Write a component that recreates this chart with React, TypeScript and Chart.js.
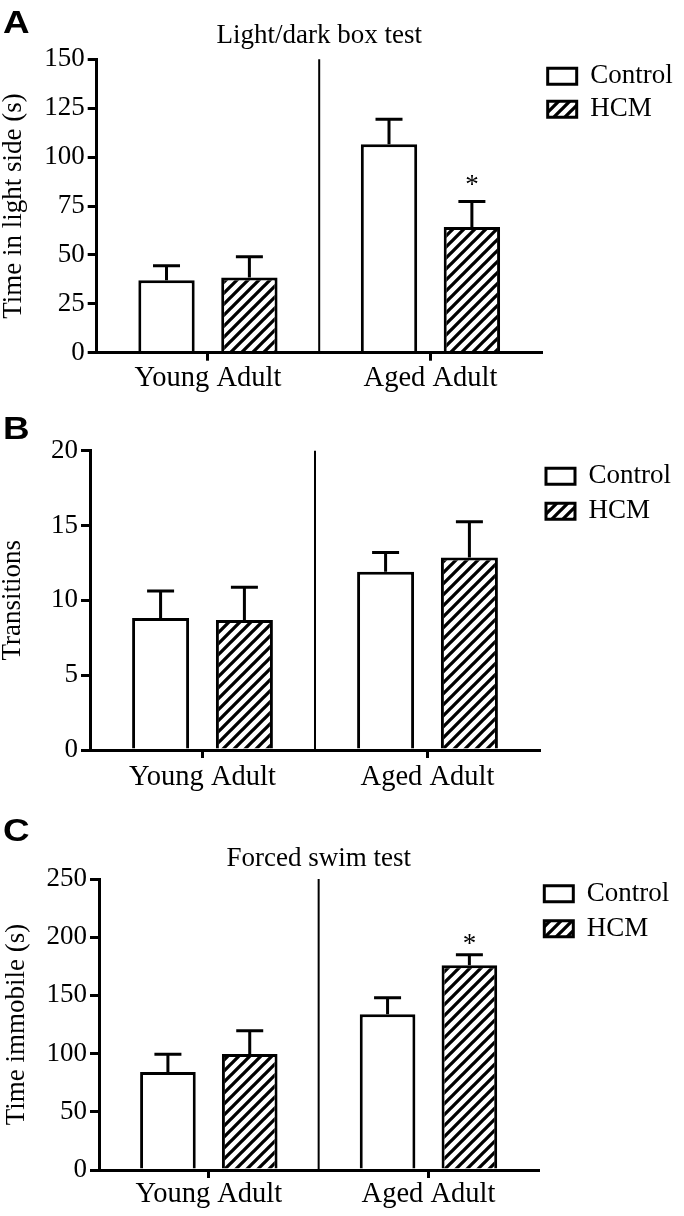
import React, { useEffect, useRef } from 'react';
import { Chart, registerables } from 'chart.js';

Chart.register(...registerables);

// ---------- data ----------
const categories = ['Young Adult', 'Aged Adult'];
const seriesNames = ['Control', 'HCM'];

// Panel A – Light/dark box test, time in light side (s)
const lightDarkControl = [37.1, 106.6];
const lightDarkControlSem = [7.3, 12.8];
const lightDarkHcm = [38.5, 64.2];
const lightDarkHcmSem = [10.5, 13.1];
const lightDarkControlSig = [false, false];
const lightDarkHcmSig = [false, true];
const lightDarkAxis = [0, 150, 25]; // min, max, step

// Panel B – Transitions
const transitionsControl = [8.82, 11.91];
const transitionsControlSem = [1.8, 1.29];
const transitionsHcm = [8.68, 12.87];
const transitionsHcmSem = [2.19, 2.38];
const transitionsControlSig = [false, false];
const transitionsHcmSig = [false, false];
const transitionsAxis = [0, 20, 5];

// Panel C – Forced swim test, time immobile (s)
const swimControl = [84.2, 133.7];
const swimControlSem = [15.2, 14.3];
const swimHcm = [99.7, 175.8];
const swimHcmSem = [20.0, 9.2];
const swimControlSig = [false, false];
const swimHcmSig = [false, true];
const swimAxis = [0, 250, 50];

// ---------- styling / layout ----------
const SERIF = "'Times New Roman', 'Liberation Serif', serif";
const FONT_SIZE = 27;
const XLABEL_SIZE = 28.5;

type PanelSpec = {
  key: string;
  letter: string;
  letterTop: number;
  title?: string;
  yTitle: string;
  control: number[];
  controlSem: number[];
  hcm: number[];
  hcmSem: number[];
  controlSig: boolean[];
  hcmSig: boolean[];
  axis: number[];
  top: number;
  height: number;
  layoutTop: number;
  rightPad: number;
  titlePad: { top: number; bottom: number };
  yAxisWidth: number;
  yTitlePad: number;
  xAxisHeight: number;
  xLabelPad: number;
  legendPad: number;
  legendDx: number;
  legendDy: number;
  sigGap: number;
};

const panels: PanelSpec[] = [
  {
    key: 'A',
    letter: 'A',
    letterTop: 5.5,
    title: 'Light/dark box test',
    yTitle: 'Time in light side (s)',
    control: lightDarkControl,
    controlSem: lightDarkControlSem,
    hcm: lightDarkHcm,
    hcmSem: lightDarkHcmSem,
    controlSig: lightDarkControlSig,
    hcmSig: lightDarkHcmSig,
    axis: lightDarkAxis,
    top: 0,
    height: 400,
    layoutTop: 0,
    rightPad: 1.3,
    titlePad: { top: 19.3, bottom: 7.6 },
    yAxisWidth: 96.7,
    yTitlePad: 0.3,
    xAxisHeight: 47.3,
    xLabelPad: 1,
    legendPad: 6,
    legendDx: 0,
    legendDy: -2.6,
    sigGap: 9,
  },
  {
    key: 'B',
    letter: 'B',
    letterTop: 412,
    yTitle: 'Transitions',
    control: transitionsControl,
    controlSem: transitionsControlSem,
    hcm: transitionsHcm,
    hcmSem: transitionsHcmSem,
    controlSig: transitionsControlSig,
    hcmSig: transitionsHcmSig,
    axis: transitionsAxis,
    top: 400,
    height: 400,
    layoutTop: 50.7,
    rightPad: 1,
    titlePad: { top: 0, bottom: 0 },
    yAxisWidth: 90,
    yTitlePad: -1,
    xAxisHeight: 50,
    xLabelPad: 2,
    legendPad: 8,
    legendDx: -2,
    legendDy: 4,
    sigGap: 5,
  },
  {
    key: 'C',
    letter: 'C',
    letterTop: 814,
    title: 'Forced swim test',
    yTitle: 'Time immobile (s)',
    control: swimControl,
    controlSem: swimControlSem,
    hcm: swimHcm,
    hcmSem: swimHcmSem,
    controlSig: swimControlSig,
    hcmSig: swimHcmSig,
    axis: swimAxis,
    top: 800,
    height: 416,
    layoutTop: 0,
    rightPad: 2.7,
    titlePad: { top: 42.3, bottom: 4.3 },
    yAxisWidth: 99,
    yTitlePad: 3.6,
    xAxisHeight: 46,
    xLabelPad: -1,
    legendPad: 8,
    legendDx: -2,
    legendDy: -6.7,
    sigGap: 2.5,
  },
];

function makeHatch(): CanvasPattern | string {
  const size = 11;
  const c = document.createElement('canvas');
  c.width = size;
  c.height = size;
  const g = c.getContext('2d');
  if (!g) return '#888';
  g.fillStyle = '#ffffff';
  g.fillRect(0, 0, size, size);
  g.strokeStyle = '#000000';
  g.lineWidth = 3.3;
  g.beginPath();
  g.moveTo(-2, size + 2);
  g.lineTo(size + 2, -2);
  g.moveTo(-3, 3);
  g.lineTo(3, -3);
  g.moveTo(size - 3, size + 3);
  g.lineTo(size + 3, size - 3);
  g.stroke();
  return g.createPattern(c, 'repeat') || '#888';
}

function Panel({ spec }: { spec: PanelSpec }) {
  const ref = useRef<HTMLCanvasElement | null>(null);

  useEffect(() => {
    const canvas = ref.current;
    if (!canvas) return;
    const hatch = makeHatch();
    const errs = [spec.controlSem, spec.hcmSem];
    const sigs = [spec.controlSig, spec.hcmSig];

    const annotate = {
      id: 'annotate' + spec.key,
      afterLayout(chart: any) {
        const lg = chart.legend;
        if (lg) {
          lg.top += spec.legendDy;
          lg.bottom += spec.legendDy;
          lg.left += spec.legendDx;
          lg.right += spec.legendDx;
        }
      },
      beforeDatasetsDraw(chart: any) {
        const { ctx, chartArea, scales } = chart;
        ctx.save();
        ctx.strokeStyle = '#000';
        ctx.lineWidth = 2;
        for (let i = 1; i < categories.length; i++) {
          const x = scales.x.getPixelForValue(i - 0.5);
          ctx.beginPath();
          ctx.moveTo(x, chartArea.top);
          ctx.lineTo(x, chartArea.bottom);
          ctx.stroke();
        }
        ctx.restore();
      },
      afterDatasetsDraw(chart: any) {
        const { ctx, scales } = chart;
        ctx.save();
        ctx.strokeStyle = '#000';
        ctx.fillStyle = '#000';
        ctx.lineWidth = 3;
        ctx.font = `${FONT_SIZE}px ${SERIF}`;
        ctx.textAlign = 'center';
        ctx.textBaseline = 'alphabetic';
        chart.data.datasets.forEach((ds: any, d: number) => {
          const meta = chart.getDatasetMeta(d);
          meta.data.forEach((el: any, i: number) => {
            const v = ds.data[i] as number;
            const topPx = scales.y.getPixelForValue(v + errs[d][i]);
            const x = el.x;
            ctx.beginPath();
            ctx.moveTo(x, el.y);
            ctx.lineTo(x, topPx);
            ctx.moveTo(x - 13.5, topPx);
            ctx.lineTo(x + 13.5, topPx);
            ctx.stroke();
            if (sigs[d][i]) {
              ctx.fillText('*', x, topPx - spec.sigGap);
            }
          });
        });
        ctx.restore();
      },
    };

    const font = { family: SERIF, size: FONT_SIZE, weight: 'normal' as const, lineHeight: 1.2 };
    const xFont = { family: SERIF, size: XLABEL_SIZE, weight: 'normal' as const, lineHeight: 1.2 };

    const chart = new Chart(canvas, {
      type: 'bar',
      data: {
        labels: categories,
        datasets: [
          {
            label: seriesNames[0],
            data: spec.control,
            backgroundColor: '#ffffff',
            borderColor: '#000000',
            borderWidth: 3,
            categoryPercentage: 0.745,
            barPercentage: 0.68,
          },
          {
            label: seriesNames[1],
            data: spec.hcm,
            backgroundColor: hatch as any,
            borderColor: '#000000',
            borderWidth: 3,
            categoryPercentage: 0.745,
            barPercentage: 0.68,
          },
        ],
      },
      options: {
        responsive: false,
        animation: false,
        devicePixelRatio: 1,
        events: [],
        layout: { padding: { top: spec.layoutTop, left: 0, right: spec.rightPad, bottom: 0 } },
        plugins: {
          title: {
            display: !!spec.title,
            text: spec.title || '',
            color: '#000',
            font,
            padding: spec.titlePad,
            fullSize: false,
          },
          legend: {
            display: true,
            position: 'right',
            align: 'start',
            fullSize: false,
            labels: {
              boxWidth: 29,
              boxHeight: 16,
              padding: spec.legendPad,
              color: '#000',
              font: { family: SERIF, size: FONT_SIZE },
            },
          },
          tooltip: { enabled: false },
        },
        scales: {
          x: {
            type: 'category',
            offset: true,
            grid: {
              display: true,
              drawOnChartArea: false,
              drawTicks: true,
              tickLength: 8,
              offset: false,
              color: '#000',
              lineWidth: 3,
            },
            border: { display: true, color: '#000', width: 3, z: 1 },
            ticks: {
              color: '#000',
              font: xFont,
              padding: spec.xLabelPad,
              maxRotation: 0,
              autoSkip: false,
            },
            afterFit: (s: any) => {
              s.height = spec.xAxisHeight;
            },
          },
          y: {
            min: spec.axis[0],
            max: spec.axis[1],
            ticks: { stepSize: spec.axis[2], color: '#000', font, padding: 3 },
            grid: {
              display: true,
              drawOnChartArea: false,
              drawTicks: true,
              tickLength: 9,
              color: '#000',
              lineWidth: 3,
            },
            border: { display: true, color: '#000', width: 3, z: 1 },
            title: {
              display: true,
              text: spec.yTitle,
              color: '#000',
              font: { family: SERIF, size: FONT_SIZE, weight: 'normal' as const, lineHeight: 1 },
              padding: { top: spec.yTitlePad, bottom: 0 },
            },
            afterFit: (s: any) => {
              s.width = spec.yAxisWidth;
            },
          },
        },
      } as any,
      plugins: [annotate],
    });

    return () => {
      chart.destroy();
    };
  }, [spec]);

  return (
    <canvas
      ref={ref}
      width={684}
      height={spec.height}
      style={{ position: 'absolute', left: 0, top: spec.top, width: 684, height: spec.height, display: 'block' }}
    />
  );
}

export default function App() {
  return (
    <div
      style={{
        position: 'absolute',
        left: 0,
        top: 0,
        width: 684,
        height: 1216,
        background: '#ffffff',
        overflow: 'hidden',
      }}
    >
      {panels.map((p) => (
        <Panel key={p.key} spec={p} />
      ))}
      {panels.map((p) => (
        <div
          key={'letter' + p.key}
          style={{
            position: 'absolute',
            left: 3,
            top: p.letterTop,
            fontFamily: "'Liberation Sans', Arial, Helvetica, sans-serif",
            fontWeight: 700,
            fontSize: 32,
            lineHeight: 1,
            color: '#000',
            transform: 'scaleX(1.15)',
            transformOrigin: 'left top',
          }}
        >
          {p.letter}
        </div>
      ))}
    </div>
  );
}
